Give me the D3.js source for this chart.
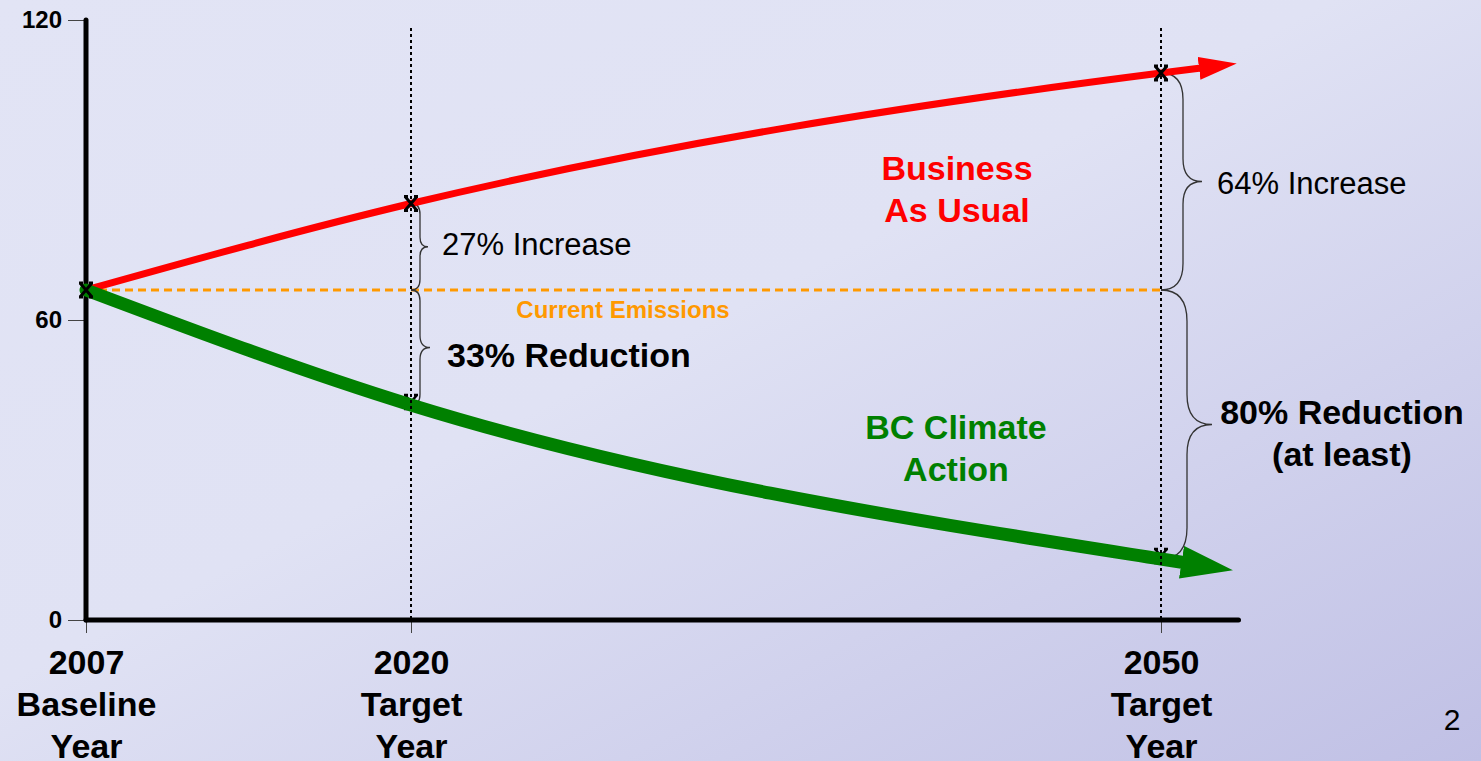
<!DOCTYPE html>
<html>
<head>
<meta charset="utf-8">
<script src="https://cdn.jsdelivr.net/npm/d3@7"></script>
<style>
  html, body { margin: 0; padding: 0; overflow: hidden; }
  svg { display: block; font-family: "Liberation Sans", Arial, sans-serif; }
</style>
</head>
<body>
<svg id="chart" width="1481" height="761"></svg>
<script>
// milestone years on the x axis
const years = [2007, 2020, 2050];
const yearLabels = [["2007", "Baseline", "Year"], ["2020", "Target", "Year"], ["2050", "Target", "Year"]];
const yTicks = [0, 60, 120];

// current (2007) emissions
const baseline = 66;

// business as usual path (last point = base of the arrow head)
const bauYears = [2007, 2020, 2050, 2051.6];
const bauValues = [66, 83.3, 109.4, 110.4];

// BC climate action path
const bcYears = [2007, 2020, 2050, 2050.9];
const bcValues = [66, 43, 12.2, 11.5];

const width = 1481, height = 761;
const svg = d3.select("#chart");

const x = d3.scaleLinear().domain([2007, 2050]).range([86, 1161]);
const y = d3.scaleLinear().domain([0, 120]).range([620, 20]);
const xEnd = 2053.1;

// background
const defs = svg.append("defs");
const grad = defs.append("linearGradient").attr("id", "bg")
    .attr("x1", 0).attr("y1", 0).attr("x2", 1).attr("y2", 1);
grad.append("stop").attr("offset", 0).attr("stop-color", "#e2e4f5");
grad.append("stop").attr("offset", 0.45).attr("stop-color", "#e0e2f4");
grad.append("stop").attr("offset", 1).attr("stop-color", "#c0c0e5");
svg.append("rect").attr("width", width).attr("height", height).attr("fill", "url(#bg)");

// arrow heads
function arrowMarker(id, len, half, color) {
    defs.append("marker").attr("id", id)
        .attr("markerUnits", "userSpaceOnUse")
        .attr("viewBox", `-2 ${-half} ${len + 2} ${half * 2}`)
        .attr("markerWidth", len + 2).attr("markerHeight", half * 2)
        .attr("refX", 0).attr("refY", 0)
        .attr("orient", "auto")
        .append("path")
        .attr("d", `M-2,${-half}L${len},0L-2,${half}Z`)
        .attr("fill", color);
}
arrowMarker("arrowRed", 36, 11.5, "#ff0000");
arrowMarker("arrowGreen", 50, 16.5, "#008000");

// y axis
const yAxis = svg.append("g")
    .attr("transform", `translate(${x(2007)},0)`)
    .call(d3.axisLeft(y).tickValues(yTicks).tickSize(18).tickPadding(6));
yAxis.select(".domain").remove();
yAxis.selectAll(".tick line").attr("stroke", "#444").attr("stroke-width", 1);
yAxis.selectAll(".tick text")
    .attr("font-size", 24).attr("font-weight", "bold").attr("fill", "#000")
    .attr("font-family", "Liberation Sans, Arial, sans-serif");

// x axis
const xAxis = svg.append("g")
    .attr("transform", `translate(0,${y(0)})`)
    .call(d3.axisBottom(x).tickValues(years).tickSize(13).tickFormat(""));
xAxis.select(".domain").remove();
xAxis.selectAll(".tick line").attr("stroke", "#444").attr("stroke-width", 1);
xAxis.selectAll(".tick").each(function(d, i) {
    const t = d3.select(this).append("text")
        .attr("text-anchor", "middle")
        .attr("font-size", 34).attr("font-weight", "bold").attr("fill", "#000")
        .attr("font-family", "Liberation Sans, Arial, sans-serif");
    yearLabels[i].forEach((s, k) => {
        t.append("tspan").attr("x", 0).attr("y", 54 + k * 42).text(s);
    });
});

// thick axis lines
svg.append("line")
    .attr("x1", x(2007)).attr("x2", x(2007)).attr("y1", y(120)).attr("y2", y(0))
    .attr("stroke", "#000").attr("stroke-width", 5).attr("stroke-linecap", "round");
svg.append("line")
    .attr("x1", x(2007)).attr("x2", x(xEnd)).attr("y1", y(0)).attr("y2", y(0))
    .attr("stroke", "#000").attr("stroke-width", 5).attr("stroke-linecap", "round");

// current emissions line
svg.append("line")
    .attr("x1", x(2007)).attr("x2", x(2050)).attr("y1", y(baseline)).attr("y2", y(baseline))
    .attr("stroke", "#ff9900").attr("stroke-width", 3).attr("stroke-dasharray", "8,5");

// braces
function brace(x0, yA, yB, d1, d2) {
    const ym = (yA + yB) / 2;
    const r = Math.min(d1 * 1.2, Math.abs(yB - yA) / 4);
    const r2 = Math.min((d2 - d1) * 1.2, Math.abs(yB - yA) / 4);
    return `M${x0},${yA}Q${x0 + d1},${yA} ${x0 + d1},${yA + r}` +
        `L${x0 + d1},${ym - r2}Q${x0 + d1},${ym} ${x0 + d2},${ym}` +
        `Q${x0 + d1},${ym} ${x0 + d1},${ym + r2}` +
        `L${x0 + d1},${yB - r}Q${x0 + d1},${yB} ${x0},${yB}`;
}
const braces = [
    [2020, bauValues[1], baseline, 9, 17],
    [2020, baseline, bcValues[1], 9, 19],
    [2050, bauValues[2], baseline, 22, 41],
    [2050, baseline, bcValues[2], 26, 51]
];
svg.append("g").selectAll("path").data(braces).join("path")
    .attr("d", d => brace(x(d[0]), y(d[1]), y(d[2]), d[3], d[4]))
    .attr("fill", "none").attr("stroke", "#333").attr("stroke-width", 1.3);

const line = d3.line().curve(d3.curveMonotoneX)
    .x(d => x(d[0])).y(d => y(d[1]));

// bold "x" marker with small top/bottom bars
const xMark = "M-6,-7L6,7M6,-7L-6,7M-7,-7L-3,-7M3,-7L7,-7M-7,7L-3,7M3,7L7,7";

// BC markers sit under the green line
svg.append("g").selectAll("path").data([1, 2]).join("path")
    .attr("transform", i => `translate(${x(bcYears[i])},${y(bcValues[i]) - 3})`)
    .attr("d", xMark).attr("stroke", "#000").attr("stroke-width", 2.5);

// business as usual
svg.append("path")
    .datum(bauYears.map((yr, i) => [yr, bauValues[i]]))
    .attr("d", line)
    .attr("fill", "none").attr("stroke", "#ff0000").attr("stroke-width", 7)
    .attr("marker-end", "url(#arrowRed)");

// BC climate action
svg.append("path")
    .datum(bcYears.map((yr, i) => [yr, bcValues[i]]))
    .attr("d", line)
    .attr("fill", "none").attr("stroke", "#008000").attr("stroke-width", 13)
    .attr("stroke-linecap", "round")
    .attr("marker-end", "url(#arrowGreen)");

// vertical target lines
svg.append("g").selectAll("line").data([2020, 2050]).join("line")
    .attr("x1", d => x(d)).attr("x2", d => x(d))
    .attr("y1", 28).attr("y2", y(0))
    .attr("stroke", "#000").attr("stroke-width", 2).attr("stroke-dasharray", "3,3");

// BAU markers
svg.append("g").selectAll("path").data([0, 1, 2]).join("path")
    .attr("transform", i => `translate(${x(bauYears[i])},${y(bauValues[i])})`)
    .attr("d", xMark).attr("stroke", "#000").attr("stroke-width", 3);

// labels
function label(txt, px, py, opts) {
    const t = svg.append("text")
        .attr("x", px).attr("y", py)
        .attr("font-size", opts.size)
        .attr("font-weight", opts.bold ? "bold" : "normal")
        .attr("fill", opts.color || "#000")
        .attr("text-anchor", opts.anchor || "start");
    if (Array.isArray(txt)) {
        txt.forEach((s, k) => t.append("tspan").attr("x", px).attr("dy", k ? opts.lh : 0).text(s));
    } else t.text(txt);
    return t;
}
label("27% Increase", 442, 255, { size: 31 });
label("33% Reduction", 447, 367, { size: 34, bold: true });
label("Current Emissions", 623, 318, { size: 24, bold: true, color: "#ff9900", anchor: "middle" });
label(["Business", "As Usual"], 957, 180, { size: 34, bold: true, color: "#ff0000", anchor: "middle", lh: 42 });
label(["BC Climate", "Action"], 956, 439, { size: 34, bold: true, color: "#008000", anchor: "middle", lh: 42 });
label("64% Increase", 1217, 194, { size: 31 });
label(["80% Reduction", "(at least)"], 1342, 424, { size: 34, bold: true, anchor: "middle", lh: 42 });
label("2", 1452, 730, { size: 30, anchor: "middle" });
</script>
</body>
</html>
